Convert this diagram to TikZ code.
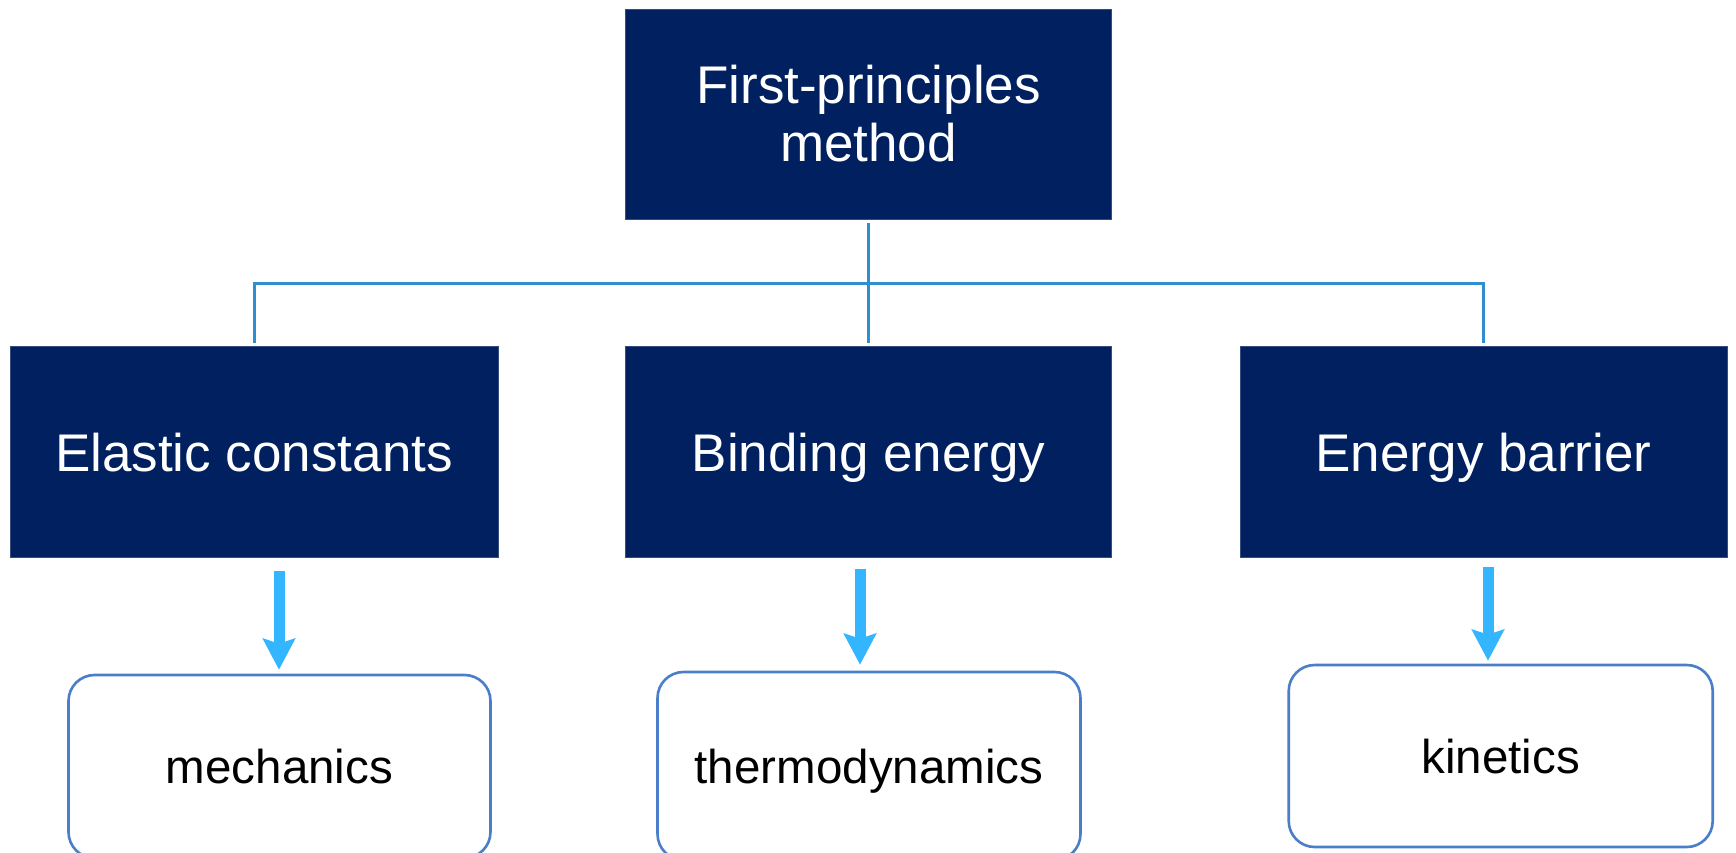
\documentclass[tikz,border=0pt]{standalone}
\usepackage{fontspec}
\setmainfont{Liberation Sans}
\usetikzlibrary{arrows.meta,calc}
\definecolor{navy}{HTML}{002060}
\definecolor{linkblue}{HTML}{2E8FD0}
\definecolor{arrowblue}{HTML}{33B5FF}
\definecolor{boxedge}{HTML}{4A7EC8}
\tikzset{
  darkbox/.style={rectangle, fill=navy, draw=navy!80!white, line width=0.8pt, text=white,
    font=\fontsize{53}{58}\selectfont, align=center, inner sep=0pt},
  onelinebox/.style={darkbox, text height=40pt, text depth=0pt},
  resultbox/.style={rectangle, rounded corners=26pt, draw=boxedge, line width=2.6pt, fill=white,
    text=black, font=\fontsize{47.5}{55}\selectfont, align=center, inner sep=0pt,
    text height=34.6pt, text depth=0pt},
  link/.style={draw=linkblue, line width=2.2pt},
  bigarrow/.style={draw=arrowblue, line width=11pt,
    -{Stealth[length=31pt, width=32pt, inset=5pt]}},
}
\begin{document}
\begin{tikzpicture}[x=1pt, y=-1pt]
\useasboundingbox (0,0) rectangle (1736,852);
\fill[white] (0,0) rectangle (1736,852);

\node[darkbox, minimum width=486pt, minimum height=210pt] (top) at (868.5,114) {First-principles\\method};

\node[onelinebox, minimum width=488pt, minimum height=210.5pt] (ela) at (254,451.75) {Elastic constants};
\node[onelinebox, minimum width=486pt, minimum height=210.5pt] (bin) at (868.5,451.75) {Binding energy};
\node[onelinebox, minimum width=487pt, minimum height=210.5pt] (bar) at (1483.5,451.75) {Energy barrier};

\node[resultbox, minimum width=422pt, minimum height=183pt] (mech) at (279.5,766.5) {mechanics};
\node[resultbox, minimum width=423pt, minimum height=188pt] (thermo) at (869,766) {thermodynamics};
\node[resultbox, minimum width=424pt, minimum height=182pt] (kin) at (1500.7,756) {kinetics};

% tree connector
\coordinate (bus) at (868.5,283.4);
\draw[link] ($(top.south)+(0,4)$) -- ($(bin.north)+(0,-3.5)$);
\draw[link] ($(ela.north)+(0.5,-3.5)$) |- (bus) -| ($(bar.north)+(0,-3.5)$);

% arrows
\coordinate (a1) at (279,571);
\coordinate (a2) at (860,569);
\coordinate (a3) at (1488,567);
\draw[bigarrow] (a1) -- ($(a1 |- mech.north)+(0,-4)$);
\draw[bigarrow] (a2) -- ($(a2 |- thermo.north)+(0,-6)$);
\draw[bigarrow] (a3) -- ($(a3 |- kin.north)+(0,-3)$);
\end{tikzpicture}
\end{document}
